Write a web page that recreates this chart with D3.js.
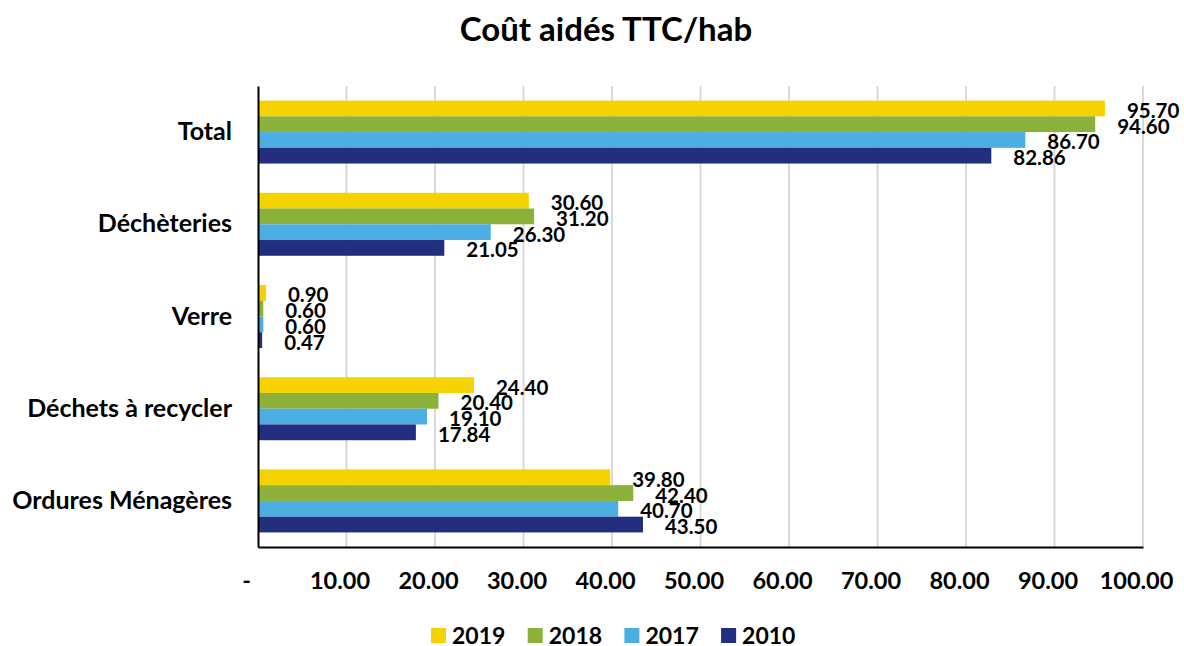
<!DOCTYPE html>
<html>
<head>
<meta charset="utf-8">
<script src="https://cdn.jsdelivr.net/npm/d3@7"></script>
<style>
  html, body { margin: 0; padding: 0; background: #fff; }
  svg { display: block; font-family: Lato, "Open Sans", sans-serif; font-weight: bold; }
</style>
</head>
<body>
<svg id="chart" width="1184" height="646"></svg>
<script>
// Categories, top to bottom
const categories = ["Total", "Déchèteries", "Verre", "Déchets à recycler", "Ordures Ménagères"];
// Series (years), drawn top to bottom inside each group
const years = ["2019", "2018", "2017", "2010"];
const values2019 = [95.70, 30.60, 0.90, 24.40, 39.80];
const values2018 = [94.60, 31.20, 0.60, 20.40, 42.40];
const values2017 = [86.70, 26.30, 0.60, 19.10, 40.70];
const values2010 = [82.86, 21.05, 0.47, 17.84, 43.50];
const xTicks = [0, 10, 20, 30, 40, 50, 60, 70, 80, 90, 100];
const colors = ["#f5d300", "#8bb13a", "#4daee3", "#232e7f"];
const title = "Coût aidés TTC/hab";

const seriesValues = [values2019, values2018, values2017, values2010];

const svg = d3.select("#chart");
const margin = { left: 258, right: 1143, top: 86, bottom: 547 };

const x = d3.scaleLinear().domain([0, 100]).range([margin.left, margin.right]);
const y = d3.scaleBand().domain(categories).range([margin.top, margin.bottom])
  .paddingInner(0.317).paddingOuter(0.158);
const ySub = d3.scaleBand().domain(years).range([0, y.bandwidth()]);

// Title
svg.append("text")
  .attr("x", 606).attr("y", 41)
  .attr("text-anchor", "middle")
  .attr("font-size", 33)
  .attr("fill", "#000")
  .text(title);

// Vertical gridlines
svg.append("g")
  .selectAll("line")
  .data(xTicks.filter(d => d > 0))
  .join("line")
  .attr("x1", d => x(d)).attr("x2", d => x(d))
  .attr("y1", margin.top).attr("y2", margin.bottom)
  .attr("stroke", "#d9d9d9").attr("stroke-width", 2);

// Bars
const groups = svg.append("g")
  .selectAll("g")
  .data(categories)
  .join("g")
  .attr("transform", c => `translate(0,${y(c)})`);

groups.selectAll("rect")
  .data((c, i) => years.map((yr, s) => ({ yr, s, v: seriesValues[s][i] })))
  .join("rect")
  .attr("x", x(0))
  .attr("y", d => ySub(d.yr))
  .attr("width", d => x(d.v) - x(0))
  .attr("height", ySub.bandwidth())
  .attr("fill", d => colors[d.s]);

// Data labels at the bar ends
groups.selectAll("text")
  .data((c, i) => years.map((yr, s) => ({ yr, s, v: seriesValues[s][i] })))
  .join("text")
  .attr("x", d => x(d.v) + 22)
  .attr("y", d => ySub(d.yr) + ySub.bandwidth() / 2 + 1.5)
  .attr("dominant-baseline", "central")
  .attr("font-size", 20.5)
  .attr("fill", "#000")
  .text(d => d3.format(".2f")(d.v));

// X axis
const xAxis = d3.axisBottom(x)
  .tickValues(xTicks)
  .tickSize(0)
  .tickFormat(d => d === 0 ? "-" : d3.format(".2f")(d));
const gx = svg.append("g")
  .attr("transform", `translate(0,${margin.bottom})`)
  .call(xAxis);
gx.select(".domain").attr("stroke", "#000").attr("stroke-width", 2);
gx.selectAll("text")
  .attr("font-family", "Lato, sans-serif")
  .attr("font-weight", "bold")
  .attr("font-size", 23.5)
  .attr("fill", "#000")
  .attr("y", 34)
  .attr("dy", "0.35em")
  .attr("dx", d => d === 0 ? -12 : -7);

// Y axis
const yAxis = d3.axisLeft(y).tickSize(0).tickPadding(26);
const gy = svg.append("g")
  .attr("transform", `translate(${margin.left},0)`)
  .call(yAxis);
gy.select(".domain").attr("stroke", "#000").attr("stroke-width", 2);
gy.selectAll("text")
  .attr("font-family", "Lato, sans-serif")
  .attr("font-weight", "bold")
  .attr("font-size", 25)
  .attr("fill", "#000");

// Legend
const legend = svg.append("g").attr("transform", "translate(431,635)");
const items = legend.selectAll("g")
  .data(years)
  .join("g")
  .attr("transform", (d, i) => `translate(${i * 96.7},0)`);
items.append("rect")
  .attr("x", 0).attr("y", -7)
  .attr("width", 15).attr("height", 15)
  .attr("fill", (d, i) => colors[i]);
items.append("text")
  .attr("x", 21).attr("y", 0)
  .attr("dominant-baseline", "central")
  .attr("font-size", 23)
  .attr("fill", "#000")
  .text(d => d);
</script>
</body>
</html>
